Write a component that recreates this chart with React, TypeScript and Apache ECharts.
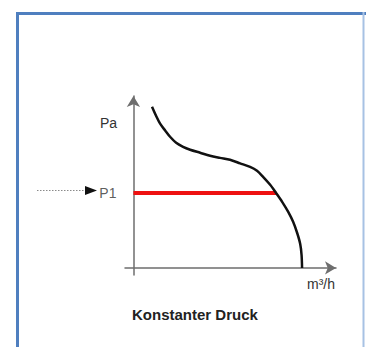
import React, { useEffect, useRef } from "react";
import * as echarts from "echarts";

// Fan curve: volume flow (m³/h) against pressure (Pa)
const flow = [
  11.0, 13.4, 15.8, 18.8, 21.7, 25.3, 29.4, 33.6, 39.5, 45.4, 51.3, 57.2, 63.2,
  69.1, 73.2, 76.8, 81.0, 84.5, 88.1, 91.7, 94.6, 97.0, 98.8, 99.6, 99.9,
];
const pressure = [
  91.0, 85.9, 81.4, 77.5, 74.0, 70.6, 68.3, 66.7, 65.0, 63.3, 62.1, 61.0, 59.0,
  57.0, 54.8, 51.4, 46.9, 42.3, 37.3, 31.6, 26.0, 19.7, 13.5, 7.3, 0,
];

// Constant pressure set point and where it meets the curve
const p1Value = 42.3;
const p1Flow = 84.5;

const yAxisName = "Pa";
const xAxisName = "m³/h";
const p1Label = "P1";
const caption = "Konstanter Druck";

const FONT = "'Liberation Sans', Arial, sans-serif";

export default function App() {
  const ref = useRef<HTMLDivElement>(null);

  useEffect(() => {
    if (!ref.current) return;
    const chart = echarts.init(ref.current, undefined, { renderer: "svg" });
    const curve = flow.map((x, i) => [x, pressure[i]]);

    chart.setOption({
      animation: false,
      backgroundColor: "#ffffff",
      grid: { left: 125, right: 30, top: 96, bottom: 72 },
      xAxis: {
        type: "value",
        min: -5,
        max: 120,
        axisLine: {
          show: true,
          onZero: true,
          symbol: ["none", "arrow"],
          symbolSize: [10, 11],
          lineStyle: { color: "#6e6e6e", width: 1.5 },
        },
        axisTick: { show: false },
        axisLabel: { show: false },
        splitLine: { show: false },
      },
      yAxis: {
        type: "value",
        min: -4,
        max: 97,
        axisLine: {
          show: true,
          onZero: true,
          symbol: ["none", "arrow"],
          symbolSize: [10, 11],
          lineStyle: { color: "#6e6e6e", width: 1.5 },
        },
        axisTick: { show: false },
        axisLabel: { show: false },
        splitLine: { show: false },
      },
      series: [
        {
          type: "line",
          data: [
            [0, p1Value],
            [p1Flow, p1Value],
          ],
          symbol: "none",
          lineStyle: { color: "#ee1111", width: 4 },
          label: { show: false },
          z: 2,
        },
        {
          type: "scatter",
          data: [[0, p1Value]],
          symbolSize: 0,
          label: {
            show: true,
            position: "left",
            distance: 17,
            formatter: p1Label,
            color: "#333333",
            fontSize: 14,
            fontFamily: FONT,
          },
          silent: true,
        },
        {
          type: "line",
          data: curve,
          smooth: 0.3,
          symbol: "none",
          lineStyle: { color: "#111111", width: 2.5 },
          z: 3,
        },
      ],
      graphic: [
        // blue frame
        { type: "line", shape: { x1: 17.5, y1: 12, x2: 17.5, y2: 347 }, style: { stroke: "#4f7fbf", lineWidth: 3 } },
        { type: "line", shape: { x1: 16, y1: 13.5, x2: 366, y2: 13.5 }, style: { stroke: "#4f7fbf", lineWidth: 3 } },
        { type: "line", shape: { x1: 363.5, y1: 12, x2: 363.5, y2: 347 }, style: { stroke: "#a7c2e4", lineWidth: 2 } },
        // dotted pointer towards P1
        {
          type: "line",
          shape: { x1: 37, y1: 190.5, x2: 86, y2: 190.5 },
          style: { stroke: "#8a8a8a", lineWidth: 1, lineDash: [1.5, 1.5] },
        },
        {
          type: "polygon",
          shape: { points: [[85, 186], [97, 190.5], [85, 195]] },
          style: { fill: "#111111" },
        },
        {
          type: "text",
          x: 117,
          y: 123,
          style: {
            text: yAxisName,
            fill: "#333333",
            fontSize: 14,
            fontFamily: FONT,
            textAlign: "right",
            textVerticalAlign: "middle",
          },
        },
        {
          type: "text",
          x: 307,
          y: 284,
          style: {
            text: xAxisName,
            fill: "#333333",
            fontSize: 14,
            fontFamily: FONT,
            textAlign: "left",
            textVerticalAlign: "middle",
          },
        },
        {
          type: "text",
          x: 132,
          y: 314,
          style: {
            text: caption,
            fill: "#222222",
            fontSize: 15,
            fontWeight: "bold",
            fontFamily: FONT,
            textAlign: "left",
            textVerticalAlign: "middle",
          },
        },
      ],
    });

    return () => chart.dispose();
  }, []);

  return (
    <div
      ref={ref}
      style={{ position: "fixed", left: 0, top: 0, width: 366, height: 347 }}
    />
  );
}
